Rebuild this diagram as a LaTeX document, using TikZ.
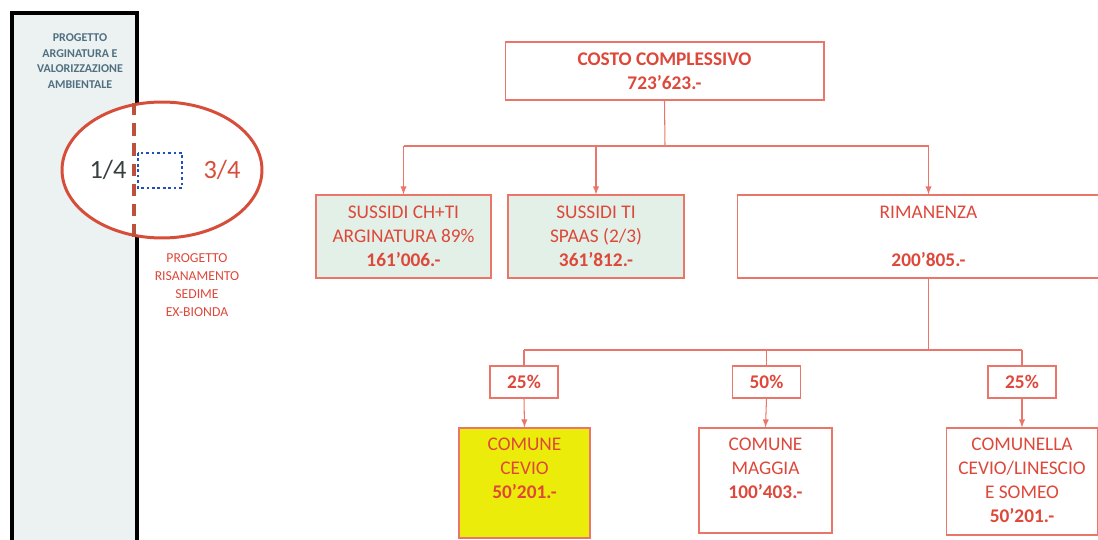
\documentclass[tikz,border=0pt]{standalone}
\usepackage{fontspec}
\setmainfont{Carlito}
\usetikzlibrary{positioning}
\usetikzlibrary{arrows}
\definecolor{txtred}{RGB}{222,72,58}
\definecolor{boxred}{RGB}{234,118,106}
\definecolor{ovalred}{RGB}{214,78,58}
\definecolor{cutred}{RGB}{188,82,60}
\definecolor{dotblue}{RGB}{30,80,190}
\definecolor{quartgray}{RGB}{55,62,62}
\definecolor{stripgray}{RGB}{236,241,241}
\definecolor{striptext}{RGB}{80,112,128}
\definecolor{mint}{RGB}{226,240,232}
\definecolor{cevioyellow}{RGB}{236,236,10}

\begin{document}
\begin{tikzpicture}[x=.02cm,y=-.02cm,>=latex] % pixel grid, y down
\tikzstyle{box}=[draw=boxred,line width=.6pt,text=txtred,align=center,inner sep=0pt,font=\fontsize{11}{13.7}\selectfont]
\tikzstyle{pct}=[box,minimum width=1.36cm,minimum height=.64cm,font=\fontsize{11}{13.7}\selectfont\bfseries]
\tikzstyle{boxtext}=[text=txtred,align=center,inner sep=0pt,font=\fontsize{11}{13.7}\selectfont]
\tikzstyle{link}=[draw=boxred,line width=.6pt]

\useasboundingbox (0,0) rectangle (1098,540);

% left strip
\draw[line width=.08cm,fill=stripgray] (12,13) rectangle (137,548); % grey column
\draw (80,61) node[text=striptext,align=center,font=\fontsize{6.8}{9}\selectfont\bfseries] (argin) {PROGETTO\\ARGINATURA E\\VALORIZZAZIONE\\AMBIENTALE}; % strip title

\draw[ovalred,line width=1.7pt,fill=white] (162,170) ellipse (2cm and 1.36cm); % oval
\draw[cutred,line width=2pt,dash pattern=on 7pt off 4.5pt] (134,103) -- (134,242); % split line
\draw[dotblue,line width=1.5pt,dash pattern=on 1.5pt off 1.6pt] (138,153) rectangle (182,188); % dotted area
\draw (108,170) node[text=quartgray,font=\fontsize{15}{18}\selectfont] (q1) {1/4}; % 1/4
\draw (222,170) node[text=ovalred,font=\fontsize{15}{18}\selectfont] (q3) {3/4}; % 3/4
\draw (197,285) node[text=txtred,align=center,font=\fontsize{7.8}{10.2}\selectfont] (risan) {PROGETTO\\RISANAMENTO\\SEDIME\\EX-BIONDA}; % note under oval

% top level
\draw (664.5,71) node[box,fill=white,minimum width=6.38cm,minimum height=1.16cm,font=\fontsize{11}{13.7}\selectfont\bfseries] (costo) {COSTO COMPLESSIVO\\723’623.-};

% second level
\draw (403.5,236.5) node[box,fill=mint,minimum width=3.5cm,minimum height=1.66cm] (ch) {SUSSIDI CH+TI\\ARGINATURA 89\%\\\textbf{161’006.-}};
\draw (596,236.5) node[box,fill=mint,minimum width=3.52cm,minimum height=1.66cm] (ti) {SUSSIDI TI\\SPAAS (2/3)\\\textbf{361’812.-}};
\draw (928.5,236.5) node[box,fill=white,minimum width=7.66cm,minimum height=1.66cm] (rim) {RIMANENZA\\[13.7pt]\textbf{200’805.-}};

\coordinate (bus1) at (665,146);
\draw[link] (costo.south) -- (bus1);
\draw[link] (ch.north |- bus1) -- (rim.north |- bus1);
\draw[link,->] (ch.north |- bus1) -- (ch.north);
\draw[link,->] (ti.north |- bus1) -- (ti.north);
\draw[link,->] (rim.north |- bus1) -- (rim.north);

% shares
\draw (524,382) node[pct] (p1) {25\%};
\draw (766.5,382) node[pct] (p2) {50\%};
\draw (1022,382) node[pct] (p3) {25\%};

\coordinate (bus2) at (928,350);
\draw[link] (rim.south) -- (rim.south |- bus2);
\draw[link] (p1.north |- bus2) -- (p3.north |- bus2);
\draw[link] (p1.north |- bus2) -- (p1.north);
\draw[link] (p2.north |- bus2) -- (p2.north);
\draw[link] (p3.north |- bus2) -- (p3.north);

% communes
\draw (524.5,483) node[box,fill=cevioyellow,minimum width=2.62cm,minimum height=2.2cm] (cevio) {};
\node[boxtext,below=.2cm of cevio.north] (ceviotxt) {COMUNE\\CEVIO\\\textbf{50’201.-}};
\draw (765.5,480.5) node[box,fill=white,minimum width=2.66cm,minimum height=2.1cm] (maggia) {};
\node[boxtext,below=.2cm of maggia.north] (maggiatxt) {COMUNE\\MAGGIA\\\textbf{100’403.-}};
\draw (1022,481.5) node[box,fill=white,minimum width=3.04cm,minimum height=2.14cm] (comun) {};
\node[boxtext,below=.2cm of comun.north] (comuntxt) {COMUNELLA\\CEVIO/LINESCIO\\E SOMEO\\\textbf{50’201.-}};

\draw[link,->] (p1.south) -- (cevio.north);
\draw[link,->] (p2.south) -- (maggia.north);
\draw[link,->] (p3.south) -- (comun.north);
\end{tikzpicture}
\end{document}
